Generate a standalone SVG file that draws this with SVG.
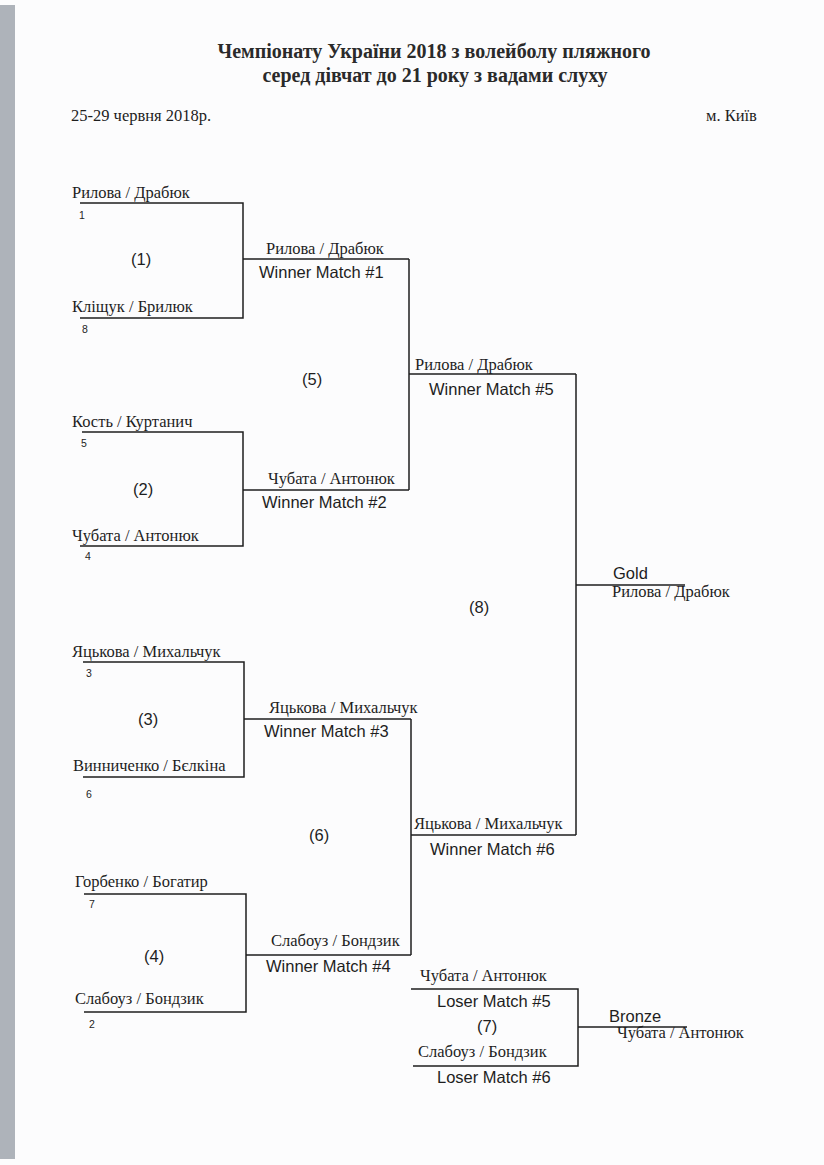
<svg xmlns="http://www.w3.org/2000/svg" width="824" height="1165" viewBox="0 0 824 1165">
<style>
.ln{stroke:#1e1e1e;stroke-width:1.5;fill:none}
.nm{font-family:"Liberation Serif","Times New Roman",serif;font-size:16.5px;fill:#1e1e1e}
.wm{font-family:"Liberation Sans",Arial,sans-serif;font-size:16.5px;fill:#1e1e1e}
.sd{font-family:"Liberation Sans",Arial,sans-serif;font-size:10.5px;fill:#1e1e1e}
.mn{font-family:"Liberation Sans",Arial,sans-serif;font-size:16.5px;fill:#1e1e1e}
.tt{font-family:"Liberation Serif","Times New Roman",serif;font-size:20px;font-weight:bold;fill:#2a2a2a;text-anchor:middle}
.hd{font-family:"Liberation Serif","Times New Roman",serif;font-size:16.5px;fill:#1e1e1e}
</style>
<rect x="0" y="0" width="824" height="1165" fill="#fcfcfd"/>
<rect x="0" y="5" width="15" height="1154" fill="#aeb3ba"/>

<g id="header">
<text class="tt" x="434" y="58">Чемпіонату України 2018 з волейболу пляжного</text>
<text class="tt" x="435" y="82">серед дівчат до 21 року з вадами слуху</text>
<text class="hd" x="71" y="121">25-29 червня 2018р.</text>
<text class="hd" x="706" y="121">м. Київ</text>
</g>

<g id="connectors">
<!-- match 1 -->
<path class="ln" d="M80 203 H243 V318 H80"/>
<path class="ln" d="M243 259 H409"/>
<!-- match 2 -->
<path class="ln" d="M82 432 H243 V546 H80"/>
<path class="ln" d="M243 490 H409"/>
<!-- match 5 -->
<path class="ln" d="M409 259 V490"/>
<path class="ln" d="M409 374 H576"/>
<!-- match 3 -->
<path class="ln" d="M83 662 H244 V777 H83"/>
<path class="ln" d="M244 719 H411"/>
<!-- match 4 -->
<path class="ln" d="M84 894 H246 V1012 H84"/>
<path class="ln" d="M246 955 H411"/>
<!-- match 6 -->
<path class="ln" d="M411 719 V955"/>
<path class="ln" d="M411 835 H576"/>
<!-- match 8 -->
<path class="ln" d="M576 374 V835"/>
<path class="ln" d="M576 585 H685"/>
<!-- match 7 -->
<path class="ln" d="M411 989 H578 V1066 H413"/>
<path class="ln" d="M578 1027 H687"/>
</g>

<g id="match1">
<text class="nm" x="72" y="198">Рилова / Драбюк</text>
<text class="sd" x="79" y="219">1</text>
<text class="mn" x="131" y="265">(1)</text>
<text class="nm" x="72" y="312">Кліщук / Брилюк</text>
<text class="sd" x="82" y="333">8</text>
<text class="nm" x="266" y="254">Рилова / Драбюк</text>
<text class="wm" x="259" y="278">Winner Match #1</text>
</g>

<g id="match2">
<text class="nm" x="72" y="427">Кость / Куртанич</text>
<text class="sd" x="81" y="447">5</text>
<text class="mn" x="133" y="495">(2)</text>
<text class="nm" x="72" y="541">Чубата / Антонюк</text>
<text class="sd" x="85" y="560">4</text>
<text class="nm" x="268" y="484">Чубата / Антонюк</text>
<text class="wm" x="262" y="508">Winner Match #2</text>
</g>

<g id="match5">
<text class="mn" x="302" y="385">(5)</text>
<text class="nm" x="415" y="370">Рилова / Драбюк</text>
<text class="wm" x="429" y="395">Winner Match #5</text>
</g>

<g id="match3">
<text class="nm" x="72" y="657">Яцькова / Михальчук</text>
<text class="sd" x="86" y="677">3</text>
<text class="mn" x="138" y="725">(3)</text>
<text class="nm" x="73" y="771">Винниченко / Бєлкіна</text>
<text class="sd" x="86" y="798">6</text>
<text class="nm" x="269" y="713">Яцькова / Михальчук</text>
<text class="wm" x="264" y="737">Winner Match #3</text>
</g>

<g id="match4">
<text class="nm" x="75" y="887">Горбенко / Богатир</text>
<text class="sd" x="89" y="908">7</text>
<text class="mn" x="144" y="962">(4)</text>
<text class="nm" x="75" y="1004">Слабоуз / Бондзик</text>
<text class="sd" x="89" y="1028">2</text>
<text class="nm" x="271" y="946">Слабоуз / Бондзик</text>
<text class="wm" x="266" y="972">Winner Match #4</text>
</g>

<g id="match6">
<text class="mn" x="309" y="841">(6)</text>
<text class="nm" x="414" y="829">Яцькова / Михальчук</text>
<text class="wm" x="430" y="855">Winner Match #6</text>
</g>

<g id="match8">
<text class="mn" x="469" y="613">(8)</text>
<text class="wm" x="613" y="579">Gold</text>
<text class="nm" x="612" y="597">Рилова / Драбюк</text>
</g>

<g id="match7">
<text class="nm" x="420" y="981">Чубата / Антонюк</text>
<text class="wm" x="437" y="1007">Loser Match #5</text>
<text class="mn" x="477" y="1032">(7)</text>
<text class="nm" x="418" y="1057">Слабоуз / Бондзик</text>
<text class="wm" x="437" y="1083">Loser Match #6</text>
<text class="wm" x="609" y="1022">Bronze</text>
<text class="nm" x="617" y="1038">Чубата / Антонюк</text>
</g>
</svg>
